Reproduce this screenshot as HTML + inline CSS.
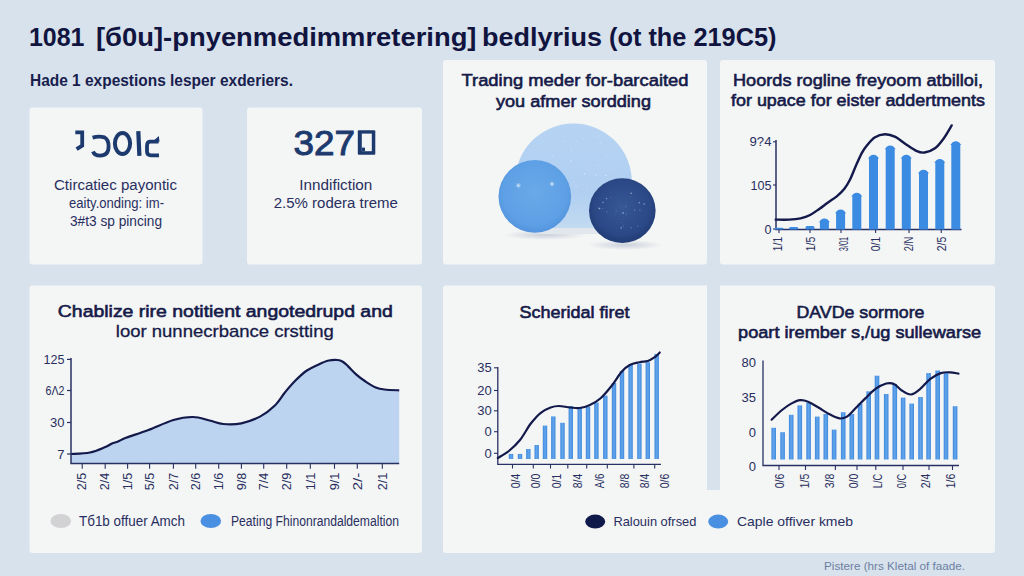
<!DOCTYPE html>
<html><head><meta charset="utf-8"><style>
html,body{margin:0;padding:0;width:1024px;height:576px;overflow:hidden;background:#d8e2ec}
svg{display:block;font-family:"Liberation Sans", sans-serif}
</style></head><body>
<svg width="1024" height="576" viewBox="0 0 1024 576">
<rect x="0" y="0" width="1024" height="576" fill="#d8e2ec"/>
<defs>
<linearGradient id="gBig" x1="0" y1="0" x2="0" y2="1"><stop offset="0" stop-color="#b6d3f3"/><stop offset="0.6" stop-color="#b0cff1"/><stop offset="0.9" stop-color="#c3daf1"/><stop offset="1" stop-color="#d2e2f1"/></linearGradient>
<radialGradient id="gMid" cx="0.5" cy="0.45" r="0.55"><stop offset="0" stop-color="#6aa9e8"/><stop offset="0.8" stop-color="#5ea0e5"/><stop offset="1" stop-color="#5394de"/></radialGradient>
<radialGradient id="gDark" cx="0.5" cy="0.45" r="0.55"><stop offset="0" stop-color="#36569400"/><stop offset="0" stop-color="#365694"/><stop offset="0.75" stop-color="#2c4987"/><stop offset="1" stop-color="#213c75"/></radialGradient>
<linearGradient id="gBar" x1="0" y1="0" x2="1" y2="0"><stop offset="0" stop-color="#3f88dc"/><stop offset="0.5" stop-color="#62a6ec"/><stop offset="1" stop-color="#3f88dc"/></linearGradient>
<radialGradient id="gSh" cx="0.5" cy="0.5" r="0.5"><stop offset="0" stop-color="#c0c8d4" stop-opacity="0.8"/><stop offset="1" stop-color="#c0c8d4" stop-opacity="0"/></radialGradient>
<clipPath id="cpBig"><rect x="500" y="100" width="150" height="128"/></clipPath>
</defs>
<rect x="29.5" y="107.5" width="173.0" height="157.0" rx="3" fill="#f4f5f5"/>
<rect x="247" y="107.5" width="175" height="157.0" rx="3" fill="#f4f5f5"/>
<rect x="443" y="60" width="264" height="204.5" rx="3" fill="#f4f5f5"/>
<rect x="720" y="60" width="275" height="204.5" rx="3" fill="#f4f5f5"/>
<rect x="29.5" y="285.5" width="392.5" height="267.5" rx="3" fill="#f4f5f5"/>
<rect x="443" y="285.5" width="552" height="267.5" rx="3" fill="#f4f5f5"/>
<rect x="707" y="285" width="13" height="205" fill="#d8e2ec"/>
<text x="29" y="46.2" font-size="26.5" font-weight="bold" fill="#10143f" text-anchor="start" textLength="55.5" lengthAdjust="spacingAndGlyphs">1081</text>
<text x="96" y="46.2" font-size="26.5" font-weight="bold" fill="#10143f" text-anchor="start" textLength="380.5" lengthAdjust="spacingAndGlyphs">[б0u]-pnyenmedimmretering]</text>
<text x="482" y="46.2" font-size="26.5" font-weight="bold" fill="#10143f" text-anchor="start" textLength="120" lengthAdjust="spacingAndGlyphs">bedlyrius</text>
<text x="609" y="46.2" font-size="26.5" font-weight="bold" fill="#10143f" text-anchor="start" textLength="167.5" lengthAdjust="spacingAndGlyphs">(ot the 219C5)</text>
<text x="30" y="85.5" font-size="16" font-weight="bold" fill="#181e4e" text-anchor="start" textLength="263" lengthAdjust="spacingAndGlyphs">Hade 1 expestions lesper exderiers.</text>
<g fill="none" stroke="#1c3a6e" stroke-width="3.8" stroke-linecap="butt" stroke-linejoin="miter">
<path d="M75.3,132.4 H82.2 V145.6 L76.6,149.2"/>
<path d="M92.6,137.6 Q99,135.6 104.5,137.4 Q108.6,139.5 108.6,146.5 Q108.6,155.6 100,155.6 Q94.5,155.6 93,151.5"/>
<ellipse cx="122.5" cy="143.5" rx="7.6" ry="10.4" stroke-width="4"/>
<path d="M138.3,131.2 L139.4,155.8" stroke-width="4.2"/>
<path d="M158.6,141.6 H149.8 Q147,141.8 147,146 V151.5 Q147,155.3 151,155.3 H159"/>
</g>
<path d="M152.5,141.8 L158.8,136 L159.5,141.8 Z" fill="#1c3a6e"/>
<text x="115.5" y="189.6" font-size="14" font-weight="normal" fill="#282f60" text-anchor="middle" textLength="123" lengthAdjust="spacingAndGlyphs">Ctircatiec payontic</text>
<text x="116.5" y="207.8" font-size="14" font-weight="normal" fill="#282f60" text-anchor="middle" textLength="95" lengthAdjust="spacingAndGlyphs">eaity.onding: im-</text>
<text x="116" y="226" font-size="14" font-weight="normal" fill="#282f60" text-anchor="middle" textLength="92" lengthAdjust="spacingAndGlyphs">3#t3 sp pincing</text>
<text x="293.5" y="155.4" font-size="35.5" font-weight="normal" fill="#1c3a6e" text-anchor="start" textLength="61.5" lengthAdjust="spacingAndGlyphs" stroke="#1c3a6e" stroke-width="1.0">327</text>
<rect x="357.8" y="130.3" width="17.5" height="24.4" rx="1" fill="#1c3a6e"/>
<rect x="361.8" y="133.6" width="10" height="17.6" fill="#f4f5f5"/>
<rect x="361.8" y="147.6" width="3.2" height="3.6" fill="#1c3a6e"/>
<text x="335.8" y="189.8" font-size="14" font-weight="normal" fill="#282f60" text-anchor="middle" textLength="73" lengthAdjust="spacingAndGlyphs">Inndifiction</text>
<text x="335.8" y="207.6" font-size="14" font-weight="normal" fill="#282f60" text-anchor="middle" textLength="124" lengthAdjust="spacingAndGlyphs">2.5% rodera treme</text>
<text x="575" y="86.2" font-size="17" font-weight="normal" fill="#151a48" text-anchor="middle" textLength="227" lengthAdjust="spacingAndGlyphs" stroke="#151a48" stroke-width="0.6">Trading meder for-barcaited</text>
<text x="573.5" y="106.5" font-size="17" font-weight="normal" fill="#151a48" text-anchor="middle" textLength="155" lengthAdjust="spacingAndGlyphs" stroke="#151a48" stroke-width="0.6">you afmer sordding</text>
<ellipse cx="545" cy="235" rx="42" ry="5" fill="url(#gSh)"/>
<ellipse cx="625" cy="245" rx="38" ry="5" fill="url(#gSh)"/>
<rect x="540" y="226" width="60" height="8" fill="#e2e7ee"/>
<circle cx="573.5" cy="181.8" r="58.3" fill="url(#gBig)" clip-path="url(#cpBig)"/>
<circle cx="534.8" cy="196.4" r="36.3" fill="url(#gMid)"/>
<ellipse cx="622.3" cy="210.6" rx="33.3" ry="32.4" fill="url(#gDark)"/>
<g><circle cx="568.2" cy="173.5" r="0.6" fill="#ffffff" opacity="0.28"/><circle cx="552.0" cy="161.1" r="0.3" fill="#ffffff" opacity="0.43"/><circle cx="597.7" cy="169.6" r="0.3" fill="#ffffff" opacity="0.28"/><circle cx="584.6" cy="173.8" r="0.6" fill="#ffffff" opacity="0.58"/><circle cx="552.8" cy="156.3" r="0.8" fill="#ffffff" opacity="0.27"/><circle cx="585.3" cy="153.4" r="0.4" fill="#ffffff" opacity="0.29"/><circle cx="586.4" cy="187.2" r="0.6" fill="#ffffff" opacity="0.38"/><circle cx="567.4" cy="163.5" r="0.3" fill="#ffffff" opacity="0.32"/><circle cx="563.1" cy="147.2" r="0.5" fill="#ffffff" opacity="0.45"/><circle cx="583.1" cy="138.3" r="0.4" fill="#ffffff" opacity="0.45"/><circle cx="571.1" cy="150.2" r="0.8" fill="#ffffff" opacity="0.29"/><circle cx="589.1" cy="182.7" r="0.3" fill="#ffffff" opacity="0.48"/><circle cx="576.3" cy="140.9" r="0.7" fill="#ffffff" opacity="0.36"/><circle cx="563.0" cy="141.6" r="0.6" fill="#ffffff" opacity="0.41"/><circle cx="596.5" cy="136.0" r="0.5" fill="#ffffff" opacity="0.48"/><circle cx="605.8" cy="175.4" r="0.6" fill="#ffffff" opacity="0.60"/><circle cx="581.6" cy="151.7" r="0.5" fill="#ffffff" opacity="0.48"/><circle cx="599.2" cy="167.9" r="0.4" fill="#ffffff" opacity="0.29"/><circle cx="608.1" cy="175.7" r="0.4" fill="#ffffff" opacity="0.34"/><circle cx="595.8" cy="174.9" r="0.6" fill="#ffffff" opacity="0.56"/><circle cx="590.5" cy="135.8" r="0.4" fill="#ffffff" opacity="0.40"/><circle cx="585.0" cy="162.5" r="0.4" fill="#ffffff" opacity="0.33"/><circle cx="576.3" cy="186.4" r="0.6" fill="#ffffff" opacity="0.34"/><circle cx="597.8" cy="165.5" r="0.5" fill="#ffffff" opacity="0.45"/><circle cx="606.4" cy="157.0" r="0.6" fill="#ffffff" opacity="0.47"/><circle cx="570.9" cy="160.9" r="0.7" fill="#ffffff" opacity="0.52"/><circle cx="600.4" cy="143.4" r="0.5" fill="#ffffff" opacity="0.39"/><circle cx="599.3" cy="180.7" r="0.3" fill="#ffffff" opacity="0.27"/><circle cx="576.7" cy="174.7" r="0.5" fill="#ffffff" opacity="0.27"/><circle cx="585.4" cy="165.0" r="0.4" fill="#ffffff" opacity="0.38"/><circle cx="613.6" cy="170.2" r="0.6" fill="#ffffff" opacity="0.30"/><circle cx="573.2" cy="182.0" r="0.5" fill="#ffffff" opacity="0.29"/><circle cx="599.4" cy="136.1" r="0.5" fill="#ffffff" opacity="0.42"/><circle cx="626.5" cy="214.1" r="0.5" fill="#c8d8f0" opacity="0.41"/><circle cx="625.5" cy="207.0" r="0.3" fill="#c8d8f0" opacity="0.68"/><circle cx="616.2" cy="211.1" r="0.6" fill="#c8d8f0" opacity="0.31"/><circle cx="599.1" cy="208.4" r="0.8" fill="#c8d8f0" opacity="0.58"/><circle cx="621.5" cy="222.1" r="0.4" fill="#c8d8f0" opacity="0.61"/><circle cx="602.6" cy="208.5" r="0.5" fill="#c8d8f0" opacity="0.39"/><circle cx="631.2" cy="193.2" r="0.8" fill="#c8d8f0" opacity="0.62"/><circle cx="630.4" cy="196.9" r="0.4" fill="#c8d8f0" opacity="0.51"/><circle cx="621.1" cy="213.4" r="0.3" fill="#c8d8f0" opacity="0.41"/><circle cx="621.2" cy="227.8" r="0.9" fill="#c8d8f0" opacity="0.48"/><circle cx="644.2" cy="204.1" r="0.9" fill="#c8d8f0" opacity="0.45"/><circle cx="623.9" cy="219.1" r="0.4" fill="#c8d8f0" opacity="0.38"/><circle cx="606.5" cy="198.6" r="0.8" fill="#c8d8f0" opacity="0.49"/><circle cx="610.6" cy="197.6" r="0.4" fill="#c8d8f0" opacity="0.56"/><circle cx="639.3" cy="202.7" r="0.8" fill="#c8d8f0" opacity="0.49"/><circle cx="631.1" cy="227.7" r="0.5" fill="#c8d8f0" opacity="0.62"/><circle cx="634.6" cy="210.1" r="0.5" fill="#c8d8f0" opacity="0.68"/><circle cx="621.2" cy="206.1" r="0.4" fill="#c8d8f0" opacity="0.36"/><circle cx="639.3" cy="202.1" r="0.4" fill="#c8d8f0" opacity="0.63"/><circle cx="640.0" cy="210.1" r="0.5" fill="#c8d8f0" opacity="0.52"/><circle cx="623.1" cy="212.8" r="0.9" fill="#c8d8f0" opacity="0.56"/><circle cx="599.8" cy="208.7" r="0.6" fill="#c8d8f0" opacity="0.65"/><circle cx="626.0" cy="205.9" r="0.5" fill="#c8d8f0" opacity="0.42"/><circle cx="623.3" cy="226.1" r="0.5" fill="#c8d8f0" opacity="0.47"/><circle cx="637.5" cy="226.1" r="0.5" fill="#c8d8f0" opacity="0.48"/><circle cx="603.0" cy="202.4" r="0.6" fill="#c8d8f0" opacity="0.67"/><circle cx="606.9" cy="211.9" r="0.6" fill="#c8d8f0" opacity="0.31"/><circle cx="615.5" cy="214.3" r="0.3" fill="#c8d8f0" opacity="0.62"/></g>
<circle cx="518.4" cy="185.5" r="2.4" fill="#ffffff" opacity="0.25"/><circle cx="518.4" cy="185.5" r="1" fill="#ffffff" opacity="0.7"/><circle cx="552" cy="184" r="2.4" fill="#ffffff" opacity="0.25"/><circle cx="552" cy="184" r="1" fill="#ffffff" opacity="0.7"/>
<text x="858" y="86" font-size="17" font-weight="normal" fill="#151a48" text-anchor="middle" textLength="250" lengthAdjust="spacingAndGlyphs" stroke="#151a48" stroke-width="0.6">Hoords rogline freyoom atbilloi,</text>
<text x="858" y="106.2" font-size="17" font-weight="normal" fill="#151a48" text-anchor="middle" textLength="254" lengthAdjust="spacingAndGlyphs" stroke="#151a48" stroke-width="0.6">for upace for eister addertments</text>
<path d="M776,140 V229.5 H961.5" fill="none" stroke="#283163" stroke-width="1.5"/>
<text x="771.5" y="146.4" font-size="12.5" font-weight="normal" fill="#282f60" text-anchor="end" textLength="22" lengthAdjust="spacingAndGlyphs">9?4</text>
<line x1="773" y1="141.8" x2="776" y2="141.8" stroke="#283163" stroke-width="1.1"/>
<text x="771.5" y="189.6" font-size="12.5" font-weight="normal" fill="#282f60" text-anchor="end" textLength="21" lengthAdjust="spacingAndGlyphs">105</text>
<line x1="773" y1="185" x2="776" y2="185" stroke="#283163" stroke-width="1.1"/>
<text x="771.5" y="233.6" font-size="12.5" font-weight="normal" fill="#282f60" text-anchor="end">0</text>
<line x1="773" y1="229" x2="776" y2="229" stroke="#283163" stroke-width="1.1"/>
<rect x="774.5" y="227.7" width="9" height="1.8" rx="1.5" fill="#3b8be2"/>
<rect x="789.1" y="227.0" width="9" height="2.5" rx="1.5" fill="#3b8be2"/>
<rect x="805.5" y="226.0" width="9" height="3.5" rx="1.5" fill="#3b8be2"/>
<path d="M819.9,229.5 V222.3 L818.9,222.3 L820.9,219.8 Q824.4,217.3 827.9,219.8 L829.9,222.3 L828.9,222.3 V229.5 Z" fill="#3b8be2"/>
<path d="M836.1,229.5 V213.3 L835.1,213.3 L837.1,210.8 Q840.6,208.3 844.1,210.8 L846.1,213.3 L845.1,213.3 V229.5 Z" fill="#3b8be2"/>
<path d="M852.3,229.5 V196.5 L851.3,196.5 L853.3,194.0 Q856.8,191.5 860.3,194.0 L862.3,196.5 L861.3,196.5 V229.5 Z" fill="#3b8be2"/>
<path d="M869.0,229.5 V158.6 L868.0,158.6 L870.0,156.1 Q873.5,153.6 877.0,156.1 L879.0,158.6 L878.0,158.6 V229.5 Z" fill="#3b8be2"/>
<path d="M885.7,229.5 V149.2 L884.7,149.2 L886.7,146.7 Q890.2,144.2 893.7,146.7 L895.7,149.2 L894.7,149.2 V229.5 Z" fill="#3b8be2"/>
<path d="M901.8,229.5 V158.6 L900.8,158.6 L902.8,156.1 Q906.2,153.6 909.8,156.1 L911.8,158.6 L910.8,158.6 V229.5 Z" fill="#3b8be2"/>
<path d="M919.0,229.5 V173.6 L918.0,173.6 L920.0,171.1 Q923.5,168.6 927.0,171.1 L929.0,173.6 L928.0,173.6 V229.5 Z" fill="#3b8be2"/>
<path d="M935.3,229.5 V162.8 L934.3,162.8 L936.3,160.2 Q939.8,157.8 943.3,160.2 L945.3,162.8 L944.3,162.8 V229.5 Z" fill="#3b8be2"/>
<path d="M951.3,229.5 V145.0 L950.3,145.0 L952.3,142.5 Q955.8,140.0 959.3,142.5 L961.3,145.0 L960.3,145.0 V229.5 Z" fill="#3b8be2"/>
<path d="M775.7,219.6 C777.9,219.6 785.0,219.8 789.1,219.6 C793.2,219.4 797.0,219.1 800.5,218.3 C804.0,217.5 806.9,216.6 810.1,215.0 C813.3,213.4 816.7,210.7 819.6,208.7 C822.5,206.7 824.4,205.1 827.3,203.0 C830.2,200.9 833.9,198.7 836.8,196.3 C839.6,193.9 842.2,191.5 844.4,188.7 C846.6,185.8 848.3,183.0 850.2,179.2 C852.1,175.4 854.0,170.1 855.9,165.8 C857.8,161.5 859.9,156.7 861.6,153.4 C863.3,150.2 864.1,149.0 866.3,146.3 C868.5,143.7 871.5,139.5 874.6,137.5 C877.7,135.5 881.5,134.3 885.0,134.2 C888.5,134.1 891.9,135.2 895.4,136.9 C898.9,138.6 902.3,141.9 905.8,144.2 C909.3,146.5 913.2,149.4 916.3,150.8 C919.4,152.2 921.5,152.9 924.6,152.5 C927.7,152.1 931.9,150.6 935.0,148.3 C938.1,146.1 940.5,142.8 943.3,139.0 C946.1,135.2 950.3,127.7 951.7,125.4" fill="none" stroke="#13194a" stroke-width="2.4" stroke-linecap="round"/>
<line x1="779" y1="229.5" x2="779" y2="233" stroke="#283163" stroke-width="1.1"/>
<line x1="810" y1="229.5" x2="810" y2="233" stroke="#283163" stroke-width="1.1"/>
<line x1="841" y1="229.5" x2="841" y2="233" stroke="#283163" stroke-width="1.1"/>
<line x1="875.6" y1="229.5" x2="875.6" y2="233" stroke="#283163" stroke-width="1.1"/>
<line x1="909" y1="229.5" x2="909" y2="233" stroke="#283163" stroke-width="1.1"/>
<line x1="941.25" y1="229.5" x2="941.25" y2="233" stroke="#283163" stroke-width="1.1"/>
<text transform="translate(782.2,244.0) rotate(-90)" x="0" y="0" font-size="12.5" fill="#282f60" text-anchor="middle" textLength="14.5" lengthAdjust="spacingAndGlyphs">1/1</text>
<text transform="translate(815.4,244.0) rotate(-90)" x="0" y="0" font-size="12.5" fill="#282f60" text-anchor="middle" textLength="14.5" lengthAdjust="spacingAndGlyphs">1/5</text>
<text transform="translate(847.5,244.0) rotate(-90)" x="0" y="0" font-size="12.5" fill="#282f60" text-anchor="middle" textLength="14.5" lengthAdjust="spacingAndGlyphs">3/01</text>
<text transform="translate(879.9,244.0) rotate(-90)" x="0" y="0" font-size="12.5" fill="#282f60" text-anchor="middle" textLength="14.5" lengthAdjust="spacingAndGlyphs">0/1</text>
<text transform="translate(913.0,244.0) rotate(-90)" x="0" y="0" font-size="12.5" fill="#282f60" text-anchor="middle" textLength="14.5" lengthAdjust="spacingAndGlyphs">2/N</text>
<text transform="translate(946.3,244.0) rotate(-90)" x="0" y="0" font-size="12.5" fill="#282f60" text-anchor="middle" textLength="14.5" lengthAdjust="spacingAndGlyphs">2/5</text>
<text x="225.3" y="317.2" font-size="17" font-weight="normal" fill="#151a48" text-anchor="middle" textLength="335" lengthAdjust="spacingAndGlyphs" stroke="#151a48" stroke-width="0.6">Chablize rire notitient angotedrupd and</text>
<text x="224.8" y="337" font-size="17" font-weight="normal" fill="#151a48" text-anchor="middle" textLength="218" lengthAdjust="spacingAndGlyphs" stroke="#151a48" stroke-width="0.3">loor nunnecrbance crstting</text>
<path d="M71.0,454.0 C74.2,453.8 84.3,453.7 90.0,452.5 C95.7,451.3 101.7,448.5 105.4,447.0 C109.1,445.5 109.9,444.4 112.0,443.5 C114.1,442.6 115.7,442.4 118.0,441.5 C120.3,440.6 120.9,439.7 126.0,437.8 C131.1,435.9 140.5,433.0 148.4,430.0 C156.3,427.0 166.0,422.2 173.4,420.0 C180.8,417.8 187.0,416.9 193.0,417.0 C199.0,417.1 204.4,419.3 209.5,420.5 C214.6,421.7 218.1,423.5 223.4,424.0 C228.7,424.5 235.3,424.5 241.4,423.3 C247.5,422.1 254.5,419.5 260.0,416.6 C265.5,413.7 270.5,409.7 274.6,405.7 C278.8,401.7 281.5,396.6 284.9,392.5 C288.3,388.4 291.5,384.5 295.2,380.8 C298.9,377.1 303.0,373.2 306.9,370.5 C310.8,367.8 315.0,366.1 318.6,364.4 C322.2,362.7 325.6,361.2 328.8,360.5 C332.0,359.8 335.3,359.8 337.6,360.0 C339.9,360.2 341.1,360.7 342.8,361.7 C344.5,362.7 345.6,363.9 347.9,366.1 C350.2,368.3 353.8,372.3 356.7,374.9 C359.6,377.5 362.3,379.4 365.5,381.5 C368.7,383.6 372.5,386.1 375.7,387.4 C378.9,388.7 380.6,389.0 384.5,389.5 C388.4,390.0 396.8,390.2 399.2,390.3 L399.2,463.6 L71,463.6 Z" fill="#bcd4ef"/>
<path d="M71.0,454.0 C74.2,453.8 84.3,453.7 90.0,452.5 C95.7,451.3 101.7,448.5 105.4,447.0 C109.1,445.5 109.9,444.4 112.0,443.5 C114.1,442.6 115.7,442.4 118.0,441.5 C120.3,440.6 120.9,439.7 126.0,437.8 C131.1,435.9 140.5,433.0 148.4,430.0 C156.3,427.0 166.0,422.2 173.4,420.0 C180.8,417.8 187.0,416.9 193.0,417.0 C199.0,417.1 204.4,419.3 209.5,420.5 C214.6,421.7 218.1,423.5 223.4,424.0 C228.7,424.5 235.3,424.5 241.4,423.3 C247.5,422.1 254.5,419.5 260.0,416.6 C265.5,413.7 270.5,409.7 274.6,405.7 C278.8,401.7 281.5,396.6 284.9,392.5 C288.3,388.4 291.5,384.5 295.2,380.8 C298.9,377.1 303.0,373.2 306.9,370.5 C310.8,367.8 315.0,366.1 318.6,364.4 C322.2,362.7 325.6,361.2 328.8,360.5 C332.0,359.8 335.3,359.8 337.6,360.0 C339.9,360.2 341.1,360.7 342.8,361.7 C344.5,362.7 345.6,363.9 347.9,366.1 C350.2,368.3 353.8,372.3 356.7,374.9 C359.6,377.5 362.3,379.4 365.5,381.5 C368.7,383.6 372.5,386.1 375.7,387.4 C378.9,388.7 380.6,389.0 384.5,389.5 C388.4,390.0 396.8,390.2 399.2,390.3" fill="none" stroke="#13194a" stroke-width="2.2"/>
<path d="M71,358 V463.6 H399.2" fill="none" stroke="#283163" stroke-width="1.5"/>
<text x="64.5" y="364.0" font-size="13" font-weight="normal" fill="#282f60" text-anchor="end" textLength="21" lengthAdjust="spacingAndGlyphs">125</text>
<line x1="67" y1="359.4" x2="71" y2="359.4" stroke="#283163" stroke-width="1.2"/>
<text x="64.5" y="395.1" font-size="13" font-weight="normal" fill="#282f60" text-anchor="end" textLength="19" lengthAdjust="spacingAndGlyphs">6Λ2</text>
<line x1="67" y1="390.5" x2="71" y2="390.5" stroke="#283163" stroke-width="1.2"/>
<text x="64.5" y="427.1" font-size="13" font-weight="normal" fill="#282f60" text-anchor="end">30</text>
<line x1="67" y1="422.5" x2="71" y2="422.5" stroke="#283163" stroke-width="1.2"/>
<text x="64.5" y="458.6" font-size="13" font-weight="normal" fill="#282f60" text-anchor="end">7</text>
<line x1="67" y1="454" x2="71" y2="454" stroke="#283163" stroke-width="1.2"/>
<line x1="82.2" y1="463.6" x2="82.2" y2="468.8" stroke="#283163" stroke-width="1.1"/>
<text transform="translate(86.4,481.5) rotate(-90)" x="0" y="0" font-size="13" fill="#282f60" text-anchor="middle" textLength="17.5" lengthAdjust="spacingAndGlyphs">2/5</text>
<line x1="105.2" y1="463.6" x2="105.2" y2="468.8" stroke="#283163" stroke-width="1.1"/>
<text transform="translate(109.4,481.5) rotate(-90)" x="0" y="0" font-size="13" fill="#282f60" text-anchor="middle" textLength="17.5" lengthAdjust="spacingAndGlyphs">2/4</text>
<line x1="127.6" y1="463.6" x2="127.6" y2="468.8" stroke="#283163" stroke-width="1.1"/>
<text transform="translate(131.8,481.5) rotate(-90)" x="0" y="0" font-size="13" fill="#282f60" text-anchor="middle" textLength="17.5" lengthAdjust="spacingAndGlyphs">1/5</text>
<line x1="149.6" y1="463.6" x2="149.6" y2="468.8" stroke="#283163" stroke-width="1.1"/>
<text transform="translate(153.8,481.5) rotate(-90)" x="0" y="0" font-size="13" fill="#282f60" text-anchor="middle" textLength="17.5" lengthAdjust="spacingAndGlyphs">5/5</text>
<line x1="173.4" y1="463.6" x2="173.4" y2="468.8" stroke="#283163" stroke-width="1.1"/>
<text transform="translate(177.6,481.5) rotate(-90)" x="0" y="0" font-size="13" fill="#282f60" text-anchor="middle" textLength="17.5" lengthAdjust="spacingAndGlyphs">2/7</text>
<line x1="195.7" y1="463.6" x2="195.7" y2="468.8" stroke="#283163" stroke-width="1.1"/>
<text transform="translate(199.9,481.5) rotate(-90)" x="0" y="0" font-size="13" fill="#282f60" text-anchor="middle" textLength="17.5" lengthAdjust="spacingAndGlyphs">2/6</text>
<line x1="218.7" y1="463.6" x2="218.7" y2="468.8" stroke="#283163" stroke-width="1.1"/>
<text transform="translate(222.9,481.5) rotate(-90)" x="0" y="0" font-size="13" fill="#282f60" text-anchor="middle" textLength="17.5" lengthAdjust="spacingAndGlyphs">1/6</text>
<line x1="241.4" y1="463.6" x2="241.4" y2="468.8" stroke="#283163" stroke-width="1.1"/>
<text transform="translate(245.6,481.5) rotate(-90)" x="0" y="0" font-size="13" fill="#282f60" text-anchor="middle" textLength="17.5" lengthAdjust="spacingAndGlyphs">9/8</text>
<line x1="263.7" y1="463.6" x2="263.7" y2="468.8" stroke="#283163" stroke-width="1.1"/>
<text transform="translate(267.9,481.5) rotate(-90)" x="0" y="0" font-size="13" fill="#282f60" text-anchor="middle" textLength="17.5" lengthAdjust="spacingAndGlyphs">7/4</text>
<line x1="286.7" y1="463.6" x2="286.7" y2="468.8" stroke="#283163" stroke-width="1.1"/>
<text transform="translate(290.9,481.5) rotate(-90)" x="0" y="0" font-size="13" fill="#282f60" text-anchor="middle" textLength="17.5" lengthAdjust="spacingAndGlyphs">2/9</text>
<line x1="310.3" y1="463.6" x2="310.3" y2="468.8" stroke="#283163" stroke-width="1.1"/>
<text transform="translate(314.5,481.5) rotate(-90)" x="0" y="0" font-size="13" fill="#282f60" text-anchor="middle" textLength="17.5" lengthAdjust="spacingAndGlyphs">1/1</text>
<line x1="334.5" y1="463.6" x2="334.5" y2="468.8" stroke="#283163" stroke-width="1.1"/>
<text transform="translate(338.7,481.5) rotate(-90)" x="0" y="0" font-size="13" fill="#282f60" text-anchor="middle" textLength="17.5" lengthAdjust="spacingAndGlyphs">9/1</text>
<line x1="357.3" y1="463.6" x2="357.3" y2="468.8" stroke="#283163" stroke-width="1.1"/>
<text transform="translate(361.5,481.5) rotate(-90)" x="0" y="0" font-size="13" fill="#282f60" text-anchor="middle" textLength="17.5" lengthAdjust="spacingAndGlyphs">2/-</text>
<line x1="382.3" y1="463.6" x2="382.3" y2="468.8" stroke="#283163" stroke-width="1.1"/>
<text transform="translate(386.5,481.5) rotate(-90)" x="0" y="0" font-size="13" fill="#282f60" text-anchor="middle" textLength="17.5" lengthAdjust="spacingAndGlyphs">2/1</text>
<ellipse cx="60.8" cy="521" rx="10.3" ry="7" fill="#d2d2d4"/>
<text x="79" y="526" font-size="14" font-weight="normal" fill="#282f60" text-anchor="start" textLength="106" lengthAdjust="spacingAndGlyphs">Tб1b offuer Amch</text>
<ellipse cx="210.8" cy="521" rx="10.3" ry="7" fill="#4a90e2"/>
<text x="231" y="526" font-size="14" font-weight="normal" fill="#282f60" text-anchor="start" textLength="168" lengthAdjust="spacingAndGlyphs">Peating Fhinonrandaldemaltion</text>
<text x="574.6" y="317.9" font-size="17" font-weight="normal" fill="#151a48" text-anchor="middle" textLength="110" lengthAdjust="spacingAndGlyphs" stroke="#151a48" stroke-width="0.6">Scheridal firet</text>
<path d="M497.8,367 V464.4 H661" fill="none" stroke="#283163" stroke-width="1.3"/>
<text x="491.7" y="372.40000000000003" font-size="13" font-weight="normal" fill="#282f60" text-anchor="end">35</text>
<line x1="494" y1="367.8" x2="497.8" y2="367.8" stroke="#283163" stroke-width="1.1"/>
<text x="491.7" y="395.1" font-size="13" font-weight="normal" fill="#282f60" text-anchor="end">20</text>
<line x1="494" y1="390.5" x2="497.8" y2="390.5" stroke="#283163" stroke-width="1.1"/>
<text x="491.7" y="415.40000000000003" font-size="13" font-weight="normal" fill="#282f60" text-anchor="end">30</text>
<line x1="494" y1="410.8" x2="497.8" y2="410.8" stroke="#283163" stroke-width="1.1"/>
<text x="491.7" y="436.3" font-size="13" font-weight="normal" fill="#282f60" text-anchor="end">0</text>
<line x1="494" y1="431.7" x2="497.8" y2="431.7" stroke="#283163" stroke-width="1.1"/>
<text x="491.7" y="457.90000000000003" font-size="13" font-weight="normal" fill="#282f60" text-anchor="end">0</text>
<line x1="494" y1="453.3" x2="497.8" y2="453.3" stroke="#283163" stroke-width="1.1"/>
<rect x="508.8" y="453.9" width="4.4" height="5.1" fill="url(#gBar)"/>
<rect x="517.8" y="453.9" width="4.4" height="5.1" fill="url(#gBar)"/>
<rect x="526.1" y="449.0" width="4.4" height="10.0" fill="url(#gBar)"/>
<rect x="534.5" y="445.0" width="4.4" height="14.0" fill="url(#gBar)"/>
<rect x="542.8" y="425.6" width="4.4" height="33.4" fill="url(#gBar)"/>
<rect x="551.1" y="416.4" width="4.4" height="42.6" fill="url(#gBar)"/>
<rect x="560.3" y="422.8" width="4.4" height="36.2" fill="url(#gBar)"/>
<rect x="568.6" y="406.0" width="4.4" height="53.0" fill="url(#gBar)"/>
<rect x="577.5" y="408.0" width="4.4" height="51.0" fill="url(#gBar)"/>
<rect x="585.8" y="406.7" width="4.4" height="52.3" fill="url(#gBar)"/>
<rect x="594.2" y="402.5" width="4.4" height="56.5" fill="url(#gBar)"/>
<rect x="603.1" y="395.6" width="4.4" height="63.4" fill="url(#gBar)"/>
<rect x="611.8" y="383.0" width="4.4" height="76.0" fill="url(#gBar)"/>
<rect x="619.8" y="371.0" width="4.4" height="88.0" fill="url(#gBar)"/>
<rect x="628.4" y="365.0" width="4.4" height="94.0" fill="url(#gBar)"/>
<rect x="637.2" y="363.6" width="4.4" height="95.4" fill="url(#gBar)"/>
<rect x="645.6" y="362.2" width="4.4" height="96.8" fill="url(#gBar)"/>
<rect x="654.5" y="353.9" width="4.4" height="105.1" fill="url(#gBar)"/>
<path d="M497.8,458.0 C499.6,456.8 505.2,454.0 508.9,451.0 C512.6,448.0 516.3,444.6 520.0,440.0 C523.7,435.4 527.5,427.8 531.0,423.3 C534.5,418.8 537.5,415.4 540.8,412.8 C544.1,410.2 547.6,408.6 550.6,407.5 C553.6,406.4 555.7,406.0 558.9,406.0 C562.1,406.0 566.5,407.2 570.0,407.5 C573.5,407.8 576.5,408.4 579.7,408.0 C582.9,407.6 585.9,406.9 589.4,405.3 C592.9,403.7 596.9,401.6 600.6,398.3 C604.3,395.1 608.2,390.2 611.7,385.8 C615.2,381.4 618.4,375.5 621.4,372.0 C624.4,368.5 626.7,366.6 629.7,365.0 C632.7,363.4 636.4,362.9 639.4,362.2 C642.4,361.5 645.2,361.8 647.8,361.0 C650.3,360.2 652.7,358.6 654.7,357.2 C656.7,355.8 658.9,353.3 659.7,352.5" fill="none" stroke="#13194a" stroke-width="2.2" stroke-linecap="round"/>
<line x1="512.5" y1="464.4" x2="512.5" y2="468.5" stroke="#283163" stroke-width="1.1"/>
<line x1="533.3" y1="464.4" x2="533.3" y2="468.5" stroke="#283163" stroke-width="1.1"/>
<line x1="550.5" y1="464.4" x2="550.5" y2="468.5" stroke="#283163" stroke-width="1.1"/>
<line x1="567.8" y1="464.4" x2="567.8" y2="468.5" stroke="#283163" stroke-width="1.1"/>
<line x1="586.7" y1="464.4" x2="586.7" y2="468.5" stroke="#283163" stroke-width="1.1"/>
<line x1="607.3" y1="464.4" x2="607.3" y2="468.5" stroke="#283163" stroke-width="1.1"/>
<line x1="633.9" y1="464.4" x2="633.9" y2="468.5" stroke="#283163" stroke-width="1.1"/>
<line x1="654.7" y1="464.4" x2="654.7" y2="468.5" stroke="#283163" stroke-width="1.1"/>
<text transform="translate(519.5,481.0) rotate(-90)" x="0" y="0" font-size="12.5" fill="#282f60" text-anchor="middle" textLength="14.5" lengthAdjust="spacingAndGlyphs">0/4</text>
<text transform="translate(539.7,481.0) rotate(-90)" x="0" y="0" font-size="12.5" fill="#282f60" text-anchor="middle" textLength="14.5" lengthAdjust="spacingAndGlyphs">0/0</text>
<text transform="translate(561.4,481.0) rotate(-90)" x="0" y="0" font-size="12.5" fill="#282f60" text-anchor="middle" textLength="14.5" lengthAdjust="spacingAndGlyphs">0/1</text>
<text transform="translate(581.9,481.0) rotate(-90)" x="0" y="0" font-size="12.5" fill="#282f60" text-anchor="middle" textLength="14.5" lengthAdjust="spacingAndGlyphs">8/4</text>
<text transform="translate(604.3,481.0) rotate(-90)" x="0" y="0" font-size="12.5" fill="#282f60" text-anchor="middle" textLength="14.5" lengthAdjust="spacingAndGlyphs">A/6</text>
<text transform="translate(628.5,481.0) rotate(-90)" x="0" y="0" font-size="12.5" fill="#282f60" text-anchor="middle" textLength="14.5" lengthAdjust="spacingAndGlyphs">8/8</text>
<text transform="translate(649.1,481.0) rotate(-90)" x="0" y="0" font-size="12.5" fill="#282f60" text-anchor="middle" textLength="14.5" lengthAdjust="spacingAndGlyphs">8/4</text>
<text transform="translate(668.9,481.0) rotate(-90)" x="0" y="0" font-size="12.5" fill="#282f60" text-anchor="middle" textLength="14.5" lengthAdjust="spacingAndGlyphs">0/6</text>
<text x="860.5" y="317.6" font-size="17" font-weight="normal" fill="#151a48" text-anchor="middle" textLength="128" lengthAdjust="spacingAndGlyphs" stroke="#151a48" stroke-width="0.6">DAVDe sormore</text>
<text x="859.6" y="338" font-size="17" font-weight="normal" fill="#151a48" text-anchor="middle" textLength="243" lengthAdjust="spacingAndGlyphs" stroke="#151a48" stroke-width="0.6">poart irember s,/ug sullewarse</text>
<path d="M763,360.6 V465.5 H959" fill="none" stroke="#283163" stroke-width="1.3"/>
<text x="756" y="367.3" font-size="13" font-weight="normal" fill="#282f60" text-anchor="end">80</text>
<text x="756" y="401.6" font-size="13" font-weight="normal" fill="#282f60" text-anchor="end">35</text>
<text x="756" y="436.8" font-size="13" font-weight="normal" fill="#282f60" text-anchor="end">0</text>
<text x="756" y="470.6" font-size="13" font-weight="normal" fill="#282f60" text-anchor="end">0</text>
<rect x="771.4" y="427.8" width="4.6" height="31.7" fill="url(#gBar)"/>
<rect x="780.3" y="432.2" width="4.6" height="27.3" fill="url(#gBar)"/>
<rect x="788.9" y="414.8" width="4.6" height="44.7" fill="url(#gBar)"/>
<rect x="797.5" y="405.4" width="4.6" height="54.1" fill="url(#gBar)"/>
<rect x="806.3" y="402.8" width="4.6" height="56.7" fill="url(#gBar)"/>
<rect x="814.9" y="416.6" width="4.6" height="42.9" fill="url(#gBar)"/>
<rect x="823.5" y="414.0" width="4.6" height="45.5" fill="url(#gBar)"/>
<rect x="831.8" y="429.6" width="4.6" height="29.9" fill="url(#gBar)"/>
<rect x="840.9" y="412.2" width="4.6" height="47.3" fill="url(#gBar)"/>
<rect x="849.5" y="414.0" width="4.6" height="45.5" fill="url(#gBar)"/>
<rect x="857.8" y="403.6" width="4.6" height="55.9" fill="url(#gBar)"/>
<rect x="866.4" y="391.3" width="4.6" height="68.2" fill="url(#gBar)"/>
<rect x="874.7" y="375.7" width="4.6" height="83.8" fill="url(#gBar)"/>
<rect x="883.9" y="394.0" width="4.6" height="65.5" fill="url(#gBar)"/>
<rect x="892.5" y="384.0" width="4.6" height="75.5" fill="url(#gBar)"/>
<rect x="900.8" y="397.6" width="4.6" height="61.9" fill="url(#gBar)"/>
<rect x="909.4" y="403.6" width="4.6" height="55.9" fill="url(#gBar)"/>
<rect x="918.2" y="397.0" width="4.6" height="62.5" fill="url(#gBar)"/>
<rect x="926.3" y="373.1" width="4.6" height="86.4" fill="url(#gBar)"/>
<rect x="935.4" y="370.5" width="4.6" height="89.0" fill="url(#gBar)"/>
<rect x="943.7" y="373.1" width="4.6" height="86.4" fill="url(#gBar)"/>
<rect x="952.8" y="406.2" width="4.6" height="53.3" fill="url(#gBar)"/>
<path d="M771.6,419.7 C773.3,418.1 778.7,412.7 782.0,410.0 C785.3,407.3 788.2,405.2 791.2,403.6 C794.2,402.0 797.5,400.5 800.3,400.2 C803.1,399.9 805.0,400.5 808.0,401.7 C811.0,402.9 815.0,405.4 818.5,407.5 C822.0,409.6 825.5,412.2 829.0,414.0 C832.5,415.8 836.3,418.0 839.3,418.4 C842.3,418.8 844.4,418.2 847.0,416.6 C849.6,415.0 852.0,411.8 855.0,408.8 C858.0,405.8 861.8,401.8 865.3,398.4 C868.8,395.0 872.3,391.2 875.8,388.7 C879.3,386.2 883.2,384.3 886.2,383.5 C889.2,382.7 891.4,382.8 894.0,384.0 C896.6,385.2 899.0,388.8 901.8,390.5 C904.6,392.2 907.9,394.7 910.9,394.5 C913.9,394.3 916.8,391.8 920.0,389.2 C923.2,386.6 926.9,381.5 930.4,378.8 C933.9,376.1 937.5,374.2 940.8,373.1 C944.1,372.0 947.0,372.2 950.0,372.3 C953.0,372.4 957.1,373.4 958.5,373.6" fill="none" stroke="#13194a" stroke-width="2.2" stroke-linecap="round"/>
<line x1="779" y1="465.5" x2="779" y2="470" stroke="#283163" stroke-width="1.1"/>
<line x1="805.5" y1="465.5" x2="805.5" y2="470" stroke="#283163" stroke-width="1.1"/>
<line x1="835.4" y1="465.5" x2="835.4" y2="470" stroke="#283163" stroke-width="1.1"/>
<line x1="857" y1="465.5" x2="857" y2="470" stroke="#283163" stroke-width="1.1"/>
<line x1="875.8" y1="465.5" x2="875.8" y2="470" stroke="#283163" stroke-width="1.1"/>
<line x1="903" y1="465.5" x2="903" y2="470" stroke="#283163" stroke-width="1.1"/>
<line x1="929" y1="465.5" x2="929" y2="470" stroke="#283163" stroke-width="1.1"/>
<line x1="952.5" y1="465.5" x2="952.5" y2="470" stroke="#283163" stroke-width="1.1"/>
<text transform="translate(784.0,481.0) rotate(-90)" x="0" y="0" font-size="12.5" fill="#282f60" text-anchor="middle" textLength="14.5" lengthAdjust="spacingAndGlyphs">0/6</text>
<text transform="translate(808.5,481.0) rotate(-90)" x="0" y="0" font-size="12.5" fill="#282f60" text-anchor="middle" textLength="14.5" lengthAdjust="spacingAndGlyphs">1/5</text>
<text transform="translate(833.5,481.0) rotate(-90)" x="0" y="0" font-size="12.5" fill="#282f60" text-anchor="middle" textLength="14.5" lengthAdjust="spacingAndGlyphs">3/8</text>
<text transform="translate(858.1,481.0) rotate(-90)" x="0" y="0" font-size="12.5" fill="#282f60" text-anchor="middle" textLength="14.5" lengthAdjust="spacingAndGlyphs">0/0</text>
<text transform="translate(881.5,481.0) rotate(-90)" x="0" y="0" font-size="12.5" fill="#282f60" text-anchor="middle" textLength="14.5" lengthAdjust="spacingAndGlyphs">L/C</text>
<text transform="translate(906.3,481.0) rotate(-90)" x="0" y="0" font-size="12.5" fill="#282f60" text-anchor="middle" textLength="14.5" lengthAdjust="spacingAndGlyphs">0/C</text>
<text transform="translate(930.2,481.0) rotate(-90)" x="0" y="0" font-size="12.5" fill="#282f60" text-anchor="middle" textLength="14.5" lengthAdjust="spacingAndGlyphs">2/4</text>
<text transform="translate(955.2,481.0) rotate(-90)" x="0" y="0" font-size="12.5" fill="#282f60" text-anchor="middle" textLength="14.5" lengthAdjust="spacingAndGlyphs">1/6</text>
<ellipse cx="595.2" cy="521.6" rx="10" ry="7" fill="#0f1a4a"/>
<text x="613.4" y="526.4" font-size="13.5" font-weight="normal" fill="#282f60" text-anchor="start" textLength="83" lengthAdjust="spacingAndGlyphs">Ralouin ofrsed</text>
<ellipse cx="718.2" cy="521.6" rx="10" ry="7" fill="#4a90e2"/>
<text x="737" y="526.4" font-size="13.5" font-weight="normal" fill="#282f60" text-anchor="start" textLength="116" lengthAdjust="spacingAndGlyphs">Caple offiver kmeb</text>
<text x="824" y="569.6" font-size="11.5" font-weight="normal" fill="#6b7fa3" text-anchor="start" textLength="141" lengthAdjust="spacingAndGlyphs">Pistere (hrs Kletal of faade.</text>
</svg>
</body></html>
